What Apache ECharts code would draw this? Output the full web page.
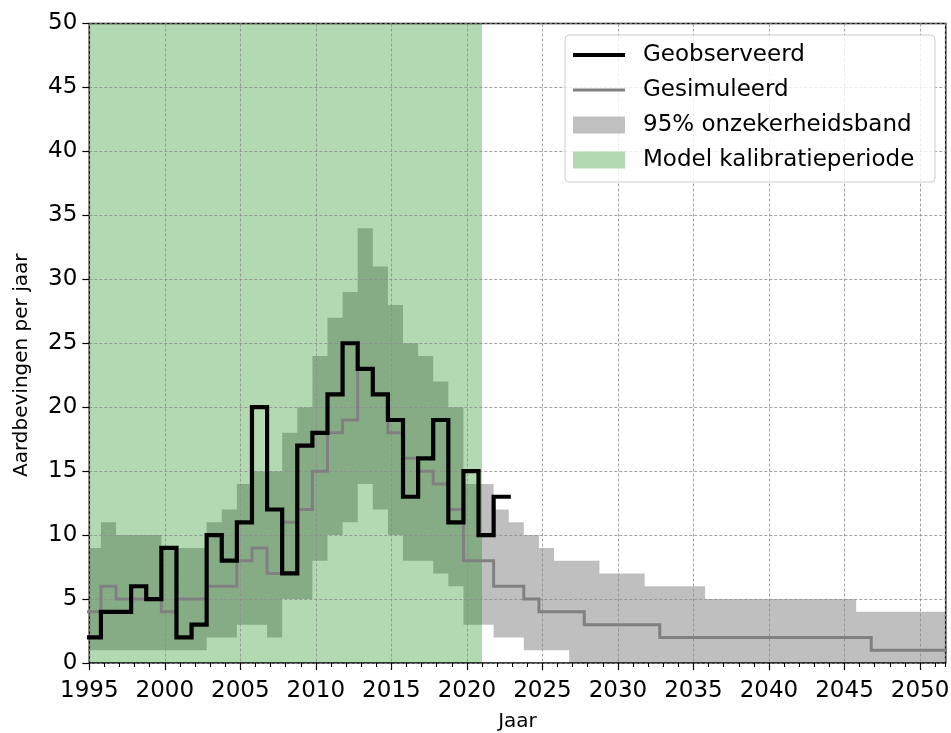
<!DOCTYPE html>
<html>
<head>
<meta charset="utf-8">
<script src="https://cdn.jsdelivr.net/npm/echarts@6/dist/echarts.min.js"></script>
<style>
html,body{margin:0;padding:0;background:#ffffff;}
#chart{width:951px;height:733px;}
</style>
</head>
<body>
<div id="chart"></div>
<script>
// ---- Data ----
const firstYear = 1995;
// each yearly value covers [year - stepOffset, year + 1 - stepOffset]
const stepOffset = 0.23;
// Observed earthquakes per year, 1995-2022
const observed = [2,4,4,6,5,9,2,3,10,8,11,20,12,7,17,18,21,25,23,21,19,13,16,19,11,15,10,13];
// Simulated (median) per year, 1995-2051
const simulated = [4,6,5,5,5,4,5,5,6,6,8,9,7,11,12,15,18,19,23,21,18,16,15,14,12,8,8,6,6,5,4,4,4,3,3,3,3,3,
  2,2,2,2,2,2,2,2,2,2,2,2,2,2,1,1,1,1,1];
// 95% uncertainty band, 1995-2051
const bandUpper = [9,11,10,10,10,9,9,9,11,12,14,15,15,18,20,24,27,29,34,31,28,25,24,22,20,14,14,12,11,10,9,8,8,8,7,7,7,
  6,6,6,6,5,5,5,5,5,5,5,5,5,5,4,4,4,4,4,4];
const bandLower = [1,1,1,1,1,1,1,1,2,2,3,3,2,5,5,8,10,11,14,12,10,8,8,7,6,3,3,2,2,1,1,1,
  0,0,0,0,0,0,0,0,0,0,0,0,0,0,0,0,0,0,0,0,0,0,0,0,0];
// Model calibration period
const calibPeriod = [1995, 2021];
// Axes
const xMin = 1995, xMax = 2051.7, xStep = 5;
const yMin = 0, yMax = 50, yStep = 5;

// ---- Build step points ----
function stepPoints(vals) {
  const pts = vals.map((v, i) => [firstYear + i - stepOffset, v]);
  pts.push([firstYear + vals.length - stepOffset, vals[vals.length - 1]]);
  return pts;
}
function clampX(x) { return Math.max(xMin, Math.min(xMax, x)); }

const FONT = 'DejaVu Sans';
const chart = echarts.init(document.getElementById('chart'), null, {renderer: 'canvas'});

const legendRows = [
  {name: 'Geobserveerd', color: '#000000', h: 4, cy: 55},
  {name: 'Gesimuleerd', color: '#808080', h: 3, cy: 90},
  {name: '95% onzekerheidsband', color: '#c0c0c0', h: 17, cy: 125},
  {name: 'Model kalibratieperiode', color: '#b3d9b3', h: 17, cy: 160}
];

const option = {
  animation: false,
  backgroundColor: '#ffffff',
  grid: {
    left: 89.3, right: 5.3, top: 23.5, bottom: 70,
    outerBoundsMode: 'none', containLabel: false,
    show: true, borderColor: '#000000', borderWidth: 1.5, backgroundColor: 'transparent', z: 3
  },
  xAxis: [
    {
      type: 'value', min: xMin, max: xMax, interval: xStep,
      z: 3,
      name: 'Jaar', nameLocation: 'middle', nameGap: 49,
      nameTextStyle: {fontFamily: FONT, fontSize: 20, color: '#000'},
      axisLine: {show: false},
      axisTick: {show: true, inside: false, length: 7, lineStyle: {color: '#000', width: 1.2}},
      axisLabel: {margin: 17, fontFamily: FONT, fontSize: 23, color: '#000', showMaxLabel: false,
        formatter: v => String(v)},
      splitLine: {show: true, lineStyle: {color: '#8c8c8c', width: 0.8, type: [3, 2]}}
    },
    {
      type: 'value', min: xMin, max: xMax, interval: 1, position: 'bottom',
      z: 3,
      axisLine: {show: false},
      axisTick: {show: true, inside: false, length: 4, lineStyle: {color: '#000', width: 1}},
      axisLabel: {show: false},
      splitLine: {show: false}
    }
  ],
  yAxis: {
    type: 'value', min: yMin, max: yMax, interval: yStep,
    z: 3,
    name: 'Aardbevingen per jaar', nameLocation: 'middle', nameGap: 58,
    nameTextStyle: {fontFamily: FONT, fontSize: 20, color: '#000', padding: [0, 44, 0, 0]},
    axisLine: {show: false},
    axisTick: {show: true, inside: false, length: 7, lineStyle: {color: '#000', width: 1.2}},
    axisLabel: {margin: 12, fontFamily: FONT, fontSize: 23, color: '#000'},
    splitLine: {show: true, lineStyle: {color: '#8c8c8c', width: 0.8, type: [3, 2]}}
  },
  legend: legendRows.map(r => ({
    data: [{name: r.name, icon: 'rect', itemStyle: {color: r.color, borderWidth: 0, opacity: 1}}],
    left: 573, top: r.cy - 11.5, padding: 0,
    itemWidth: 52, itemHeight: r.h, selectedMode: false, z: 6,
    textStyle: {fontFamily: FONT, fontSize: 23, color: '#000', padding: [0, 0, 0, 13]}
  })),
  graphic: [{
    type: 'rect', z: 5, silent: true,
    shape: {x: 565, y: 35, width: 370, height: 147, r: 4},
    style: {fill: 'rgba(255,255,255,0.8)', stroke: '#cccccc', lineWidth: 1}
  }],
  series: [
    {
      name: '95% onzekerheidsband', type: 'custom', z: 1, silent: true,
      itemStyle: {color: '#c0c0c0'},
      data: [[xMin, 0]],
      renderItem: function (params, api) {
        const pts = [];
        for (let i = 0; i < bandUpper.length; i++) {
          const x0 = clampX(firstYear + i - stepOffset), x1 = clampX(firstYear + i + 1 - stepOffset);
          pts.push(api.coord([x0, bandUpper[i]]), api.coord([x1, bandUpper[i]]));
        }
        for (let i = bandLower.length - 1; i >= 0; i--) {
          const x0 = clampX(firstYear + i - stepOffset), x1 = clampX(firstYear + i + 1 - stepOffset);
          pts.push(api.coord([x1, bandLower[i]]), api.coord([x0, bandLower[i]]));
        }
        return {type: 'polygon', shape: {points: pts}, style: {fill: 'rgba(128,128,128,0.5)'}};
      }
    },
    {
      name: 'Model kalibratieperiode', type: 'custom', z: 2, silent: true,
      itemStyle: {color: '#b3d9b3'},
      data: [calibPeriod],
      renderItem: function (params, api) {
        const cs = params.coordSys;
        const x0 = api.coord([api.value(0), 0])[0];
        const x1 = api.coord([api.value(1), 0])[0];
        return {
          type: 'rect',
          shape: {x: x0, y: cs.y, width: x1 - x0, height: cs.height},
          style: {fill: 'rgba(0,128,0,0.3)'}
        };
      },
      encode: {x: [0, 1]}
    },
    {
      name: 'Gesimuleerd', type: 'line', step: 'end', z: 4,
      data: stepPoints(simulated), symbol: 'none', silent: true,
      itemStyle: {color: '#808080'},
      lineStyle: {color: '#808080', width: 3, join: 'miter', cap: 'butt'}
    },
    {
      name: 'Geobserveerd', type: 'line', step: 'end', z: 4,
      data: stepPoints(observed), symbol: 'none', silent: true,
      itemStyle: {color: '#000000'},
      lineStyle: {color: '#000000', width: 4.2, join: 'miter', cap: 'square'}
    }
  ]
};
chart.setOption(option);
</script>
</body>
</html>
